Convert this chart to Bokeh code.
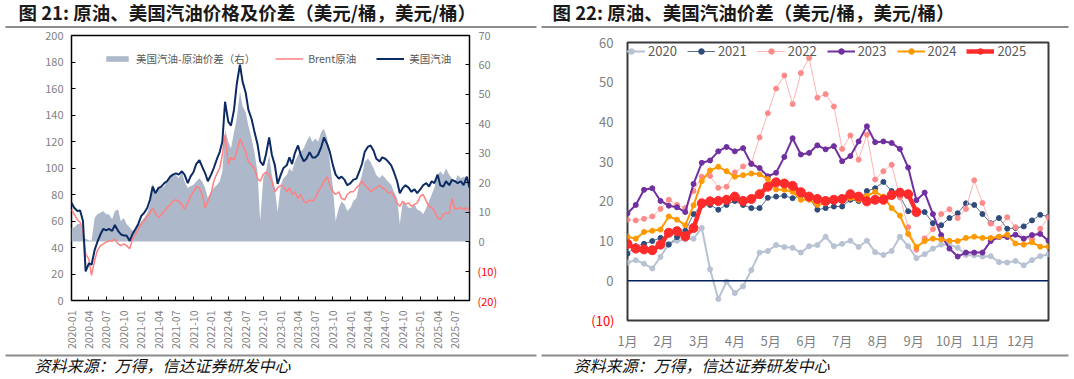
import numpy as np
import pandas as pd
from bokeh.plotting import figure
from bokeh.models import (Range1d, LinearAxis, FixedTicker, Legend, LegendItem, Span,
                          DatetimeTickFormatter, CustomJSTickFormatter)
from bokeh.layouts import row, column
from bokeh.embed import file_html
from bokeh.resources import INLINE
from bokeh.core.properties import value

# ---------------- data: figure 21 (semi-monthly readings, Jan 2020 - Sep 2025) ----------------
gasoline = [73.7, 70, 67.5, 68, 60, 22, 28, 27, 38, 44, 50, 54, 53, 54, 52.6, 57, 52.6, 50, 49, 49,
            45, 50, 54, 57.6, 64, 66, 70, 76, 86, 81, 85, 86, 88.6, 90, 93.5, 95, 96, 95, 97.5, 95,
            88.6, 93.5, 97, 103, 106, 101, 96, 90, 95, 100, 107, 112, 120, 150, 135, 132, 144, 163, 178, 165,
            157, 144, 137, 128, 118, 105, 102, 110, 123, 110, 102, 88, 95, 100, 102, 108, 103, 111, 117, 110,
            105, 107, 112, 108, 108, 110, 116, 123, 118, 112, 102, 95, 92, 93.5, 91, 87, 88.6, 91, 92, 97,
            103, 112, 116, 117, 113, 107, 105, 108, 107, 105, 102, 97, 90, 81, 85, 87, 85, 82, 84, 81,
            84, 87, 88.6, 86, 90, 88.6, 95, 87, 86, 90, 87, 91, 90, 88.6, 90, 87, 93.5, 85]
brent = [68.7, 65, 61, 59, 52.6, 35, 31, 19, 30, 37.7, 41.4, 42.7, 44, 45, 45, 46.4, 42.7, 41.4, 42.7, 41.4,
         39, 46.4, 50, 54, 57.6, 60, 63.8, 66, 70, 66, 62.5, 65, 67.5, 70, 72.5, 75, 76, 75, 72.5, 68.7,
         73.7, 78.7, 82, 86, 85, 80, 70, 75, 81, 90, 96, 100, 110, 125, 103, 108, 106, 112, 122, 118,
         112, 105, 102, 100, 92, 90, 95, 97, 95, 90, 82, 85, 87, 86, 82, 85, 80, 82, 77, 80,
         75, 73.7, 76, 75, 77, 82, 86, 90, 93.5, 87, 82, 80, 82, 77, 76, 80, 82, 82, 85, 87,
         90, 87, 85, 82, 84, 85, 87, 85, 84, 81, 82, 78.7, 73.7, 71, 75, 72.5, 73.7, 71, 72.5, 73.7,
         78.7, 80, 75, 71, 70, 67.5, 62.5, 61, 65, 66, 66, 77, 69, 69.5, 70, 68.7, 70, 67.5]
spread = [4.8, 4.8, 6, 6, 2.6, 1, 0.5, 0.3, 8, 9.3, 9.8, 10.4, 9.3, 9.3, 7.6, 10.4, 11, 7, 8, 6,
          4.8, 3.7, 4.2, 5.4, 7, 8, 9.8, 12.6, 19.9, 17, 18.2, 18.2, 18.8, 20.4, 21.5, 22.6, 22.6, 21.5, 23.8, 20.4,
          18.2, 18.8, 19.3, 20.4, 21.5, 20.4, 18.2, 14.8, 17, 18.2, 19.3, 20.4, 23.8, 38, 33.8, 31.6, 37.2, 41.6, 51, 46,
          43.9, 39.4, 35, 30.5, 23.8, 7, 21.5, 23.8, 29.4, 22.6, 18.2, 10, 19.3, 21.5, 22.6, 24.9, 23.8, 27, 29.4, 30.5,
          31.6, 33.8, 36, 33.8, 35, 33.8, 37.2, 38.3, 35, 27, 18.2, 7, 11.5, 13.7, 12.6, 10.4, 11.5, 13.7, 14.8, 19.3,
          22.6, 27, 28.2, 27, 24.9, 22.6, 21.5, 22.6, 21.5, 20.4, 19.3, 17, 14.8, 6, 13.7, 12.6, 11.5, 11.5, 12.6, 10.9,
          10.4, 9.3, 11.5, 13.7, 16, 18.2, 22.6, 23.8, 22.6, 24.9, 22.6, 21.5, 20.4, 22.6, 21.5, 22, 21.5, 19.3]
dates = pd.date_range("2020-01-01", periods=len(gasoline), freq="SMS")
quarter_ticks = pd.date_range("2020-01-01", "2025-07-01", freq="QS")
left_ticks = list(range(0, 201, 20))
right_pos_ticks = list(range(0, 71, 10))
right_neg_labels = {-10: "(10)", -20: "(20)"}

# ---------------- data: figure 22 (weekly spread by year) ----------------
y2020 = [4.6, 5.2, 4.3, 3.1, 6.0, 9.3, 10.1, 10.4, 10.6, 13.3, 2.9, -4.6, -0.2, -3.1, -1.4, 2.7, 7.1, 7.5, 9.0, 8.5,
         8.3, 7.1, 8.7, 9.0, 11.1, 8.7, 9.3, 10.1, 8.5, 10.1, 7.2, 6.5, 7.5, 11.1, 8.7, 5.7, 6.7, 8.1, 9.1, 9.1,
         8.3, 6.5, 6.4, 6.1, 6.2, 4.7, 4.6, 5.0, 3.9, 5.2, 6.2, 6.7]
y2021 = [6.8, 8.7, 9.3, 10.0, 10.8, 9.1, 11.0, 12.6, 16.8, 19.0, 19.1, 17.9, 19.1, 20.1, 19.1, 18.3, 18.3, 20.9, 21.2, 21.4,
         20.8, 21.4, 20.8, 17.9, 18.3, 18.7, 18.7, 20.4, 20.1, 22.6, 23.3, 24.9, 22.6, 21.2, 17.5, 17.5, 17.3, 14.5, 14.0, 15.8,
         17.0, 19.5, 19.1, 16.8, 14.5, 15.8, 13.1, 13.3, 13.7, 15.2, 16.6, 16.2]
y2022 = [15.4, 15.2, 15.6, 16.2, 18.1, 20.4, 19.1, 18.3, 22.6, 26.2, 26.4, 23.4, 23.7, 27.3, 28.8, 29.6, 36.1, 42.2, 48.4, 51.7,
         44.5, 52.3, 56.1, 46.1, 47.0, 43.9, 33.2, 36.6, 30.5, 36.8, 25.5, 27.6, 29.2, 21.0, 13.5, 7.8, 10.7, 13.0, 16.8, 18.0,
         15.8, 18.1, 25.3, 19.6, 14.4, 13.1, 16.0, 13.5, 10.6, 10.5, 13.1, 16.0]
y2023 = [17.0, 19.1, 22.9, 23.3, 20.1, 18.9, 18.5, 17.3, 24.4, 29.7, 30.3, 32.6, 33.7, 32.6, 33.4, 29.4, 28.4, 26.3, 27.2, 31.2,
         35.9, 31.8, 32.2, 34.1, 33.1, 33.9, 30.1, 31.4, 35.1, 38.9, 34.9, 35.1, 34.7, 33.2, 28.5, 20.3, 22.2, 16.8, 11.5, 8.1,
         6.1, 7.1, 7.1, 7.1, 10.0, 11.0, 11.0, 11.6, 10.6, 11.5, 11.8, 10.1]
y2024 = [11.1, 10.6, 12.3, 12.6, 12.9, 16.2, 15.4, 14.0, 19.0, 25.1, 27.8, 28.7, 27.6, 26.2, 26.6, 27.0, 26.8, 25.6, 23.0, 22.9,
         22.4, 20.4, 20.4, 19.1, 19.5, 20.2, 20.6, 20.8, 20.4, 21.4, 22.4, 21.2, 18.3, 16.4, 11.8, 8.5, 10.0, 10.6, 10.4, 10.1,
         10.0, 10.8, 11.1, 10.8, 10.8, 11.1, 11.6, 9.4, 9.1, 9.7, 8.6, 8.6]
y2025 = [9.3, 8.1, 7.9, 7.7, 9.1, 12.1, 12.5, 11.2, 13.3, 19.5, 20.0, 20.1, 20.4, 21.2, 20.1, 20.6, 21.8, 23.7, 24.8, 24.5,
         23.9, 22.3, 21.2, 20.6, 20.1, 20.4, 20.6, 21.8, 21.2, 20.0, 20.4, 20.4, 21.6, 22.2, 21.8, 17.3]
years = ["2020", "2021", "2022", "2023", "2024", "2025"]
months = ["1月", "2月", "3月", "4月", "5月", "6月", "7月", "8月", "9月", "10月", "11月", "12月"]
spread_pos_ticks = list(range(0, 61, 10))
spread_neg_labels = {-10: "(10)"}

title_left = "图 21: 原油、美国汽油价格及价差（美元/桶，美元/桶）"
title_right = "图 22: 原油、美国汽油价差（美元/桶，美元/桶）"
source_text = "资料来源：万得，信达证券研发中心"

CJK = "Noto Sans CJK SC"
GRAY = "#7f7f7f"
W_TOTAL = 1073
W_LEFT = 540
W_RIGHT = W_TOTAL - W_LEFT
H_HEAD = 28
H_CHART = 324
H_FOOT = 26


def no_align(f):
    if "frame_align" in f.properties():
        f.frame_align = False


def bare(width, height):
    f = figure(width=width, height=height, x_range=Range1d(0, width), y_range=Range1d(0, height),
               output_backend="svg", toolbar_location=None, min_border=0)
    f.axis.visible = False
    f.grid.visible = False
    f.outline_line_color = None
    no_align(f)
    return f


def style_axis(ax, size, color, tick_in, standoff):
    ax.axis_line_color = None
    ax.major_tick_in = tick_in
    ax.major_tick_out = 0
    ax.major_tick_line_color = "black" if tick_in else None
    ax.minor_tick_line_color = None
    ax.major_label_text_color = color
    ax.major_label_text_font = CJK
    ax.major_label_text_font_size = size
    try:
        ax.major_label_standoff = standoff
    except Exception:
        ax.major_label_standoff = 0


# ---------------- header & footer ----------------
head = bare(W_TOTAL, H_HEAD)
head.text(x=[18, 552], y=[16.5, 16.5], text=[title_left, title_right], text_font=value(CJK),
          text_font_style="bold", text_font_size="18.5px", text_color="#1a1a1a", text_baseline="middle")
head.segment(x0=[5, 541], y0=[1.5, 1.5], x1=[536, 1068], y1=[1.5, 1.5], line_color="#8c8c8c", line_width=2)

foot = bare(W_TOTAL, H_FOOT)
foot.segment(x0=[5, 541], y0=[23, 23], x1=[536, 1068], y1=[23, 23], line_color="#8c8c8c", line_width=2)
foot.text(x=[34, 573], y=[13.5, 13.5], text=[source_text, source_text], text_font=value(CJK),
          text_font_style="italic", text_font_size="16px", text_color="#111111", text_baseline="middle")

# ---------------- left chart ----------------
x_end = pd.Timestamp("2025-09-15")
p1 = figure(width=W_LEFT, height=H_CHART, x_axis_type="datetime",
            x_range=Range1d(pd.Timestamp("2020-01-01"), x_end),
            y_range=Range1d(0, 200), output_backend="svg", toolbar_location=None,
            min_border_left=71, min_border_right=71, min_border_top=7, min_border_bottom=48)
no_align(p1)
p1.extra_y_ranges = {"right": Range1d(-20, 70)}
p1.grid.visible = False
p1.outline_line_color = "black"
p1.outline_line_width = 1.5

va = p1.varea(x=dates, y1=0, y2=spread, y_range_name="right", fill_color="#adb9ca")
lb = p1.line(dates, brent, line_color="#ff8080", line_width=1.5)
lg = p1.line(dates, gasoline, line_color="#0c2a63", line_width=2)

yl = p1.yaxis[0]
yl.ticker = FixedTicker(ticks=left_ticks)
style_axis(yl, "11px", GRAY, 4, 8)
yr = LinearAxis(y_range_name="right",
                ticker=FixedTicker(ticks=sorted(list(right_neg_labels)) + right_pos_ticks),
                major_label_overrides={k: "" for k in right_neg_labels})
style_axis(yr, "11px", GRAY, 4, 9)
p1.add_layout(yr, "right")
# red labels of the negative ticks (second axis, pulled back onto the first one)
yr_red = LinearAxis(y_range_name="right", ticker=FixedTicker(ticks=sorted(right_neg_labels)),
                    major_label_overrides=right_neg_labels)
style_axis(yr_red, "11px", "#ff0000", 0, -16)
p1.add_layout(yr_red, "right")

xa = p1.xaxis[0]
xa.ticker = FixedTicker(ticks=[t.value // 10**6 for t in quarter_ticks])
xa.formatter = DatetimeTickFormatter(days="%Y-%m", months="%Y-%m", years="%Y-%m")
xa.major_label_orientation = np.pi / 2
style_axis(xa, "10.5px", GRAY, 4, 10)

leg1 = Legend(items=[LegendItem(label="美国汽油-原油价差（右）", renderers=[va]),
                     LegendItem(label="Brent原油", renderers=[lb]),
                     LegendItem(label="美国汽油", renderers=[lg])],
              orientation="horizontal", location=(32, 234), glyph_width=28, glyph_height=7,
              label_height=12, label_standoff=5, spacing=20, padding=0, margin=0,
              border_line_color=None, background_fill_alpha=0, label_text_font=CJK,
              label_text_font_size="10.5px", label_text_color="#595959")
p1.add_layout(leg1)

# ---------------- right chart ----------------
p2 = figure(width=W_RIGHT, height=H_CHART, x_range=Range1d(0, 51), y_range=Range1d(-10, 60),
            output_backend="svg", toolbar_location=None,
            min_border_left=87, min_border_right=W_RIGHT - 87 - 421, min_border_top=14, min_border_bottom=29)
no_align(p2)
p2.grid.visible = False
p2.outline_line_color = "#3a3a3a"
p2.outline_line_width = 2
p2.add_layout(Span(location=0, dimension="width", line_color="#002060", line_width=1.5))

styles = {
    "2020": dict(lc="#b7c2d3", mc="#b7c2d3", lw=2, ms=5),
    "2021": dict(lc="#5a6f8f", mc="#2f4b7c", lw=1, ms=5),
    "2022": dict(lc="#ffb3b3", mc="#ff8a8a", lw=1, ms=5),
    "2023": dict(lc="#7030a0", mc="#7030a0", lw=2, ms=5),
    "2024": dict(lc="#ff9900", mc="#ff9900", lw=2, ms=5),
    "2025": dict(lc="#ff2b2b", mc="#ff2b2b", lw=4.5, ms=9),
}
series = dict(zip(years, [y2020, y2021, y2022, y2023, y2024, y2025]))
items = []
for yname in years:
    vals = series[yname]
    s = styles[yname]
    wk = list(range(len(vals)))
    r1 = p2.line(wk, vals, line_color=s["lc"], line_width=s["lw"])
    r2 = p2.scatter(wk, vals, size=s["ms"], fill_color=s["mc"], line_color=s["mc"])
    items.append(LegendItem(label=yname, renderers=[r1, r2]))

ya2 = p2.yaxis[0]
ya2.ticker = FixedTicker(ticks=spread_pos_ticks)
style_axis(ya2, "13px", GRAY, 0, 14)
ya2_red = LinearAxis(ticker=FixedTicker(ticks=sorted(spread_neg_labels)),
                     major_label_overrides=spread_neg_labels)
style_axis(ya2_red, "13px", "#ff0000", 0, -18)
p2.add_layout(ya2_red, "left")

xa2 = p2.xaxis[0]
xa2.ticker = FixedTicker(ticks=[i * 52 / 12 for i in range(12)])
xa2.formatter = CustomJSTickFormatter(args=dict(labels=months),
                                      code="return labels[Math.round(tick * 12 / 52)];")
style_axis(xa2, "13px", GRAY, 0, 10)

leg2 = Legend(items=items, orientation="horizontal", location=(-10, 260), glyph_width=28,
              glyph_height=14, label_height=14, label_standoff=3, spacing=10, padding=0, margin=0,
              border_line_color=None, background_fill_alpha=0, label_text_font=CJK,
              label_text_font_size="13px", label_text_color="#595959")
p2.add_layout(leg2)

layout = column(head, row(column(p1), column(p2)), foot)

open("out.html", "w").write(file_html(layout, INLINE))
